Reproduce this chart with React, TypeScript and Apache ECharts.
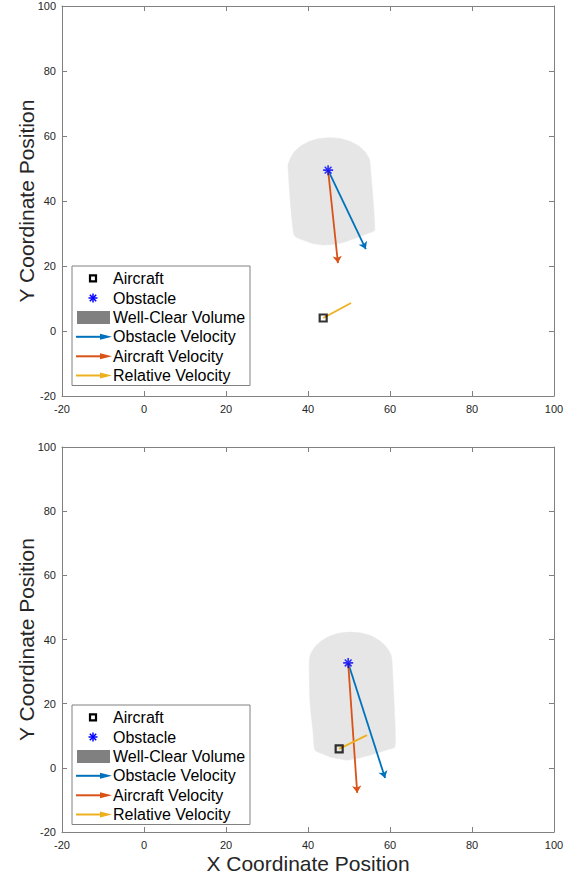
import React, { useEffect, useRef } from "react";
import * as echarts from "echarts";

// ---------- data ----------
const xRange = [-20, 100];
const yRange = [-20, 100];

// top panel
const obstacleTop = [44.9, 49.5];
const aircraftTop = [43.7, 4.0];
const obstacleVelTipTop = [54.1, 25.2];
const aircraftVelTipTop = [47.3, 20.9];
const relativeVelTipTop = [50.5, 8.6];
const wellClearTopX = [35.1, 35.6, 36.6, 38.2, 40.3, 42.7, 45.3, 47.9, 50.3, 52.4, 54.0, 55.0, 55.2, 56.3, 55.0, 53.5, 51.0, 48.5, 46.0, 43.5, 41.0, 38.8, 36.6];
const wellClearTopY = [50.9, 52.8, 55.0, 56.9, 58.3, 59.2, 59.5, 59.2, 58.3, 56.9, 55.0, 52.8, 50.9, 31.1, 30.2, 29.5, 28.3, 27.2, 26.6, 26.5, 27.0, 28.0, 29.5];

// bottom panel
const obstacleBottom = [49.8, 32.7];
const aircraftBottom = [47.6, 5.9];
const obstacleVelTipBottom = [58.8, -3.2];
const aircraftVelTipBottom = [52.0, -7.8];
const relativeVelTipBottom = [54.4, 10.2];
const wellClearBottomX = [40.3, 40.6, 41.7, 43.3, 45.4, 47.8, 50.4, 53.0, 55.5, 57.5, 59.1, 60.2, 60.5, 61.2, 61.2, 59.5, 57.6, 55.5, 53.4, 51.5, 49.5, 47.5, 45.4, 43.5, 41.7, 41.2, 40.5];
const wellClearBottomY = [33.0, 35.4, 37.7, 39.6, 41.1, 42.0, 42.3, 42.0, 41.1, 39.6, 37.7, 35.4, 33.0, 14.9, 6.5, 5.7, 4.9, 4.1, 3.4, 2.8, 2.4, 2.8, 3.4, 4.4, 5.5, 11.7, 20.1];

const legendLabels = ["Aircraft", "Obstacle", "Well-Clear Volume", "Obstacle Velocity", "Aircraft Velocity", "Relative Velocity"];

// ---------- styles ----------
const FONT = '"Liberation Sans", Helvetica, Arial, sans-serif';
const AXIS_COLOR = "#808080";
const LABEL_COLOR = "#262626";
const BLUE = "#0072BD";
const ORANGE = "#D95319";
const YELLOW = "#EDB120";
const STAR = "#0000FF";
const FILL = "#E6E6E6";
const STAR_PATH = "path://M5,0L5,10M0,5L10,5M1.6,1.6L8.4,8.4M1.6,8.4L8.4,1.6";

function axesFor(gridIndex: number, showXName: boolean) {
  const common = {
    gridIndex,
    min: xRange[0],
    max: xRange[1],
    interval: 20,
    splitLine: { show: false },
    axisLine: { show: true, onZero: false, lineStyle: { color: AXIS_COLOR, width: 1 } },
    axisTick: { show: true, inside: true, length: 5, lineStyle: { color: AXIS_COLOR } },
  };
  const xBottom = {
    ...common,
    type: "value",
    position: "bottom",
    axisLabel: { show: true, fontSize: 11, color: LABEL_COLOR, fontFamily: FONT, margin: 7, showMinLabel: true, showMaxLabel: true },
    name: showXName ? "X Coordinate Position" : "",
    nameLocation: "middle",
    nameGap: 21,
    nameMoveOverlap: false,
    nameTextStyle: { fontSize: 21, color: LABEL_COLOR, fontFamily: FONT },
  };
  const xTop = { ...common, type: "value", position: "top", axisLabel: { show: false } };
  const yCommon = { ...common, min: yRange[0], max: yRange[1] };
  const yLeft = {
    ...yCommon,
    type: "value",
    position: "left",
    axisLabel: { show: true, fontSize: 11, color: LABEL_COLOR, fontFamily: FONT, margin: 6, showMinLabel: true, showMaxLabel: true },
    name: "Y Coordinate Position",
    nameLocation: "middle",
    nameGap: 25,
    nameMoveOverlap: false,
    nameTextStyle: { fontSize: 21, color: LABEL_COLOR, fontFamily: FONT },
  };
  const yRight = { ...yCommon, type: "value", position: "right", axisLabel: { show: false } };
  return { x: [xBottom, xTop], y: [yLeft, yRight] };
}

function seriesFor(
  axisIdx: number,
  obstacle: number[],
  aircraft: number[],
  obsTip: number[],
  acTip: number[],
  relTip: number[],
  wcX: number[],
  wcY: number[]
) {
  const wcData = wcX.map((x, i) => [x, wcY[i]]);
  const arrow = (from: number[], to: number[], color: string, name: string, head: boolean) => ({
    type: "lines",
    name,
    coordinateSystem: "cartesian2d",
    xAxisIndex: axisIdx,
    yAxisIndex: axisIdx,
    symbol: head ? ["none", "arrow"] : ["none", "none"],
    symbolSize: 7,
    lineStyle: { color, width: 1.8, opacity: 1 },
    data: [{ coords: [from, to] }],
    silent: true,
    z: 3,
  });
  return [
    {
      type: "custom",
      name: "Well-Clear Volume",
      xAxisIndex: axisIdx,
      yAxisIndex: axisIdx,
      data: wcData,
      silent: true,
      z: 1,
      renderItem: (params: any, api: any) => {
        if (params.dataIndex !== 0) return null;
        return {
          type: "polygon",
          shape: { points: wcData.map((p) => api.coord(p)), smooth: 0.2 },
          style: { fill: FILL, stroke: FILL, lineWidth: 0.5 },
        };
      },
    },
    arrow(obstacle, obsTip, BLUE, "Obstacle Velocity", true),
    arrow(obstacle, acTip, ORANGE, "Aircraft Velocity", true),
    {
      type: "scatter",
      name: "Aircraft",
      xAxisIndex: axisIdx,
      yAxisIndex: axisIdx,
      symbol: "rect",
      symbolSize: 7,
      itemStyle: { color: "rgba(0,0,0,0)", borderColor: "#000", borderWidth: 2.2 },
      data: [aircraft],
      silent: true,
      z: 4,
    },
    arrow(aircraft, relTip, YELLOW, "Relative Velocity", false),
    {
      type: "scatter",
      name: "Obstacle",
      xAxisIndex: axisIdx,
      yAxisIndex: axisIdx,
      symbol: STAR_PATH,
      symbolSize: 10,
      itemStyle: { color: "rgba(0,0,0,0)", borderColor: STAR, borderWidth: 1.6 },
      data: [obstacle],
      silent: true,
      z: 5,
    },
  ];
}

function legendGraphic(left: number, top: number) {
  const rows = [12.4, 32, 51.4, 70.8, 90.3, 109.5];
  const children: any[] = [
    {
      type: "rect",
      shape: { x: 0, y: 0, width: 178, height: 119.5 },
      style: { fill: "#fff", stroke: AXIS_COLOR, lineWidth: 1 },
    },
    {
      type: "rect",
      shape: { x: 18, y: rows[0] - 3, width: 6, height: 6 },
      style: { fill: "none", stroke: "#000", lineWidth: 2.2 },
    },
    { type: "line", shape: { x1: 21, y1: rows[1] - 4.5, x2: 21, y2: rows[1] + 4.5 }, style: { stroke: STAR, lineWidth: 1.5 } },
    { type: "line", shape: { x1: 16.5, y1: rows[1], x2: 25.5, y2: rows[1] }, style: { stroke: STAR, lineWidth: 1.5 } },
    { type: "line", shape: { x1: 17.8, y1: rows[1] - 3.2, x2: 24.2, y2: rows[1] + 3.2 }, style: { stroke: STAR, lineWidth: 1.5 } },
    { type: "line", shape: { x1: 17.8, y1: rows[1] + 3.2, x2: 24.2, y2: rows[1] - 3.2 }, style: { stroke: STAR, lineWidth: 1.5 } },
    {
      type: "rect",
      shape: { x: 5, y: rows[2] - 6.5, width: 33, height: 13 },
      style: { fill: "#808080" },
    },
  ];
  const arrowColors = [BLUE, ORANGE, YELLOW];
  arrowColors.forEach((c, i) => {
    const y = rows[3 + i];
    children.push({ type: "line", shape: { x1: 4, y1: y, x2: 32, y2: y }, style: { stroke: c, lineWidth: 2 } });
    children.push({
      type: "polygon",
      shape: { points: [[28, y - 3], [40, y], [28, y + 3]] },
      style: { fill: c },
    });
  });
  legendLabels.forEach((t, i) => {
    children.push({
      type: "text",
      x: 41,
      y: rows[i],
      style: { text: t, fontSize: 16, fontFamily: FONT, fill: "#000", align: "left", verticalAlign: "middle" },
    });
  });
  return { type: "group", x: left, y: top, z: 100, children };
}

export default function App() {
  const ref = useRef<HTMLDivElement>(null);
  useEffect(() => {
    if (!ref.current) return;
    const chart = echarts.init(ref.current, null, { renderer: "svg" });
    const a0 = axesFor(0, false);
    const a1 = axesFor(1, true);
    chart.setOption({
      animation: false,
      backgroundColor: "#fff",
      grid: [
        { left: 62, top: 6, width: 492, height: 390 },
        { left: 62, top: 447, width: 492, height: 385 },
      ],
      xAxis: [a0.x[0], a0.x[1], a1.x[0], a1.x[1]],
      yAxis: [a0.y[0], a0.y[1], a1.y[0], a1.y[1]],
      series: [
        ...seriesFor(0, obstacleTop, aircraftTop, obstacleVelTipTop, aircraftVelTipTop, relativeVelTipTop, wellClearTopX, wellClearTopY),
        ...seriesFor(2, obstacleBottom, aircraftBottom, obstacleVelTipBottom, aircraftVelTipBottom, relativeVelTipBottom, wellClearBottomX, wellClearBottomY),
      ],
      graphic: [legendGraphic(72, 266), legendGraphic(72, 705)],
    });
    return () => chart.dispose();
  }, []);
  return (
    <div
      ref={ref}
      style={{ position: "fixed", left: 0, top: 0, width: 574, height: 877, background: "#fff" }}
    />
  );
}
